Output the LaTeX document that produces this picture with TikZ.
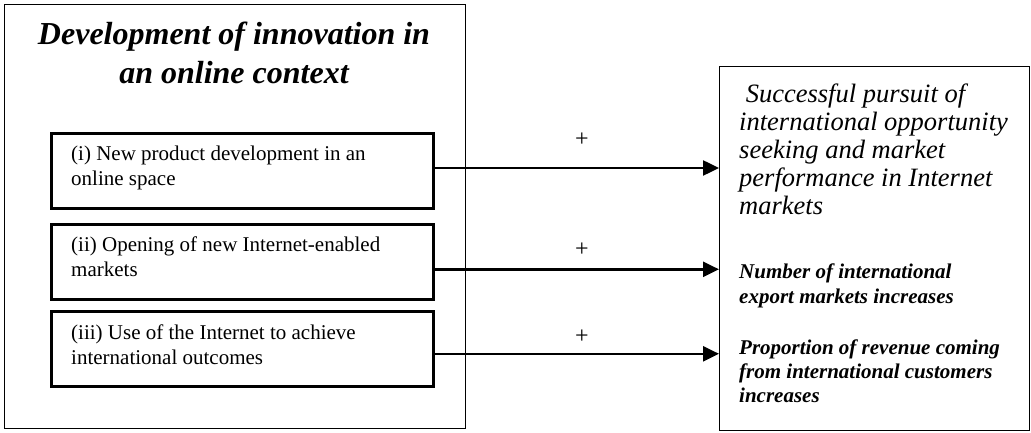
\documentclass[tikz,border=0pt]{standalone}
\usepackage{fontspec}
\setmainfont{Liberation Serif}
\usetikzlibrary{arrows.meta}

\tikzset{
  thinbox/.style={draw, line width=1.3bp, inner sep=0, anchor=north west},
  thickbox/.style={draw, line width=2.6bp, inner sep=0, anchor=north west},
  txt/.style={anchor=base west, inner sep=0},
  arr/.style={line width=2.5bp, -{Triangle[length=16bp,width=15bp]}},
  plus/.style={inner sep=0, font=\fontsize{24bp}{28bp}\selectfont},
}

\begin{document}
\begin{tikzpicture}[x=1bp, y=-1bp]
\useasboundingbox (0,0) rectangle (1031,433);

% enclosing box of the three innovation channels
\node[thinbox, minimum width=461bp, minimum height=424bp] (outer) at (4,4) {};
\node[anchor=base, inner sep=0, align=center,
      font=\fontsize{32bp}{38.5bp}\selectfont\bfseries\itshape] (title) at (234,45)
  {\parbox[t]{440bp}{\centering Development of innovation in\\ an online context}};

% the three channels
\node[thickbox, minimum width=382bp, minimum height=75bp] (b1) at (50,132) {};
\node[thickbox, minimum width=382bp, minimum height=75bp] (b2) at (50,223) {};
\node[thickbox, minimum width=382bp, minimum height=75bp] (b3) at (50,310) {};

\node[txt] (t1) at (71,161) {\parbox[t]{350bp}{\fontsize{21bp}{25bp}\selectfont
  (i) New product development in an\\ online space}};
\node[txt] (t2) at (71,252) {\parbox[t]{350bp}{\fontsize{21bp}{25bp}\selectfont
  (ii) Opening of new Internet-enabled\\ markets}};
\node[txt] (t3) at (71,340) {\parbox[t]{350bp}{\fontsize{21bp}{24.5bp}\selectfont
  (iii) Use of the Internet to achieve\\ international outcomes}};

% outcome box
\node[thinbox, minimum width=310bp, minimum height=364bp] (out) at (719,66) {};
\node[txt] (o1) at (739,103) {\parbox[t]{285bp}{\fontsize{26.5bp}{28bp}\selectfont\itshape
  \ Successful pursuit of\\ international opportunity\\ seeking and market\\
  performance in Internet\\ markets}};
\node[txt] (o2) at (739,279) {\parbox[t]{285bp}{\fontsize{21bp}{25bp}\selectfont\bfseries\itshape
  Number of international\\ export markets increases}};
\node[txt] (o3) at (739,355) {\parbox[t]{285bp}{\fontsize{21bp}{24bp}\selectfont\bfseries\itshape
  Proportion of revenue coming\\ from international customers\\ increases}};

% positive effects
\draw[arr] ([yshift=2.8bp]b1.east) -- ([yshift=2.8bp]b1.east -| out.west);
\draw[arr] ([yshift=-7.5bp]b2.east) -- ([yshift=-7.5bp]b2.east -| out.west);
\draw[arr] ([yshift=-5bp]b3.east) -- ([yshift=-5bp]b3.east -| out.west);

\node[plus] (p1) at (582,140) {+};
\node[plus] (p2) at (582,250) {+};
\node[plus] (p3) at (582,337) {+};
\end{tikzpicture}
\end{document}
